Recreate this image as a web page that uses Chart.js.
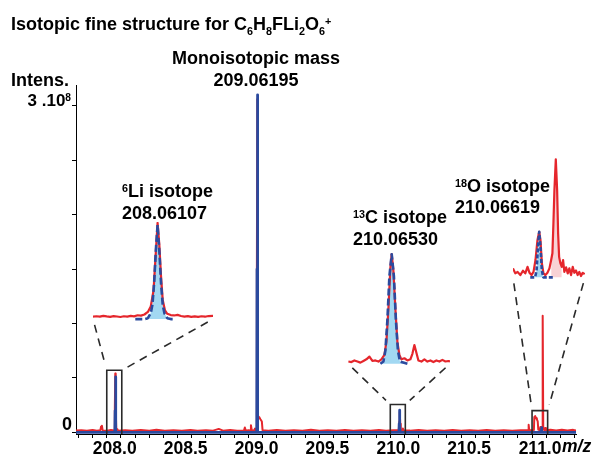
<!DOCTYPE html>
<html>
<head>
<meta charset="utf-8">
<title>Isotopic fine structure</title>
<script src="https://cdn.jsdelivr.net/npm/chart.js@4.4.1/dist/chart.umd.min.js"></script>
<style>
  html, body { margin: 0; padding: 0; background: #fff; }
  #wrap { position: relative; width: 596px; height: 454px; }
  #wrap canvas { position: absolute; }
</style>
</head>
<body>
<div id="wrap">
  <canvas id="mainChart" width="596" height="454" style="left:0;top:0"></canvas>
  <canvas id="inset0"></canvas>
  <canvas id="inset1"></canvas>
  <canvas id="inset2"></canvas>
</div>
<script>
// measured spectrum (m/z, intensity x10^6)
const expSpectrum = [
  [207.783, 1.6], [207.82, 2.0], [207.86, 1.4], [207.90, 2.2], [207.93, 1.5], [207.955, 2.0],
  [207.960, 5.5], [207.966, 6.0], [207.971, 1.8], [208.00, 1.5], [208.03, 2.2], [208.052, 1.8],
  [208.057, 22], [208.060, 54], [208.063, 24], [208.067, 3.5], [208.074, 3.0], [208.08, 1.6],
  [208.13, 2.0], [208.18, 1.5], [208.24, 2.1], [208.30, 1.6], [208.35, 2.3], [208.41, 1.5],
  [208.47, 2.0], [208.53, 1.6], [208.59, 2.2], [208.64, 1.5], [208.70, 2.0], [208.75, 1.6],
  [208.79, 3.2], [208.82, 1.6], [208.87, 2.1], [208.92, 1.5], [208.968, 1.8], [208.974, 4.5],
  [208.980, 1.6], [209.00, 2.0], [209.012, 1.8], [209.017, 6.5], [209.023, 1.8], [209.040, 2.0],
  [209.046, 3.5], [209.052, 1.8], [209.057, 3], [209.059, 150], [209.062, 306], [209.065, 150],
  [209.067, 15], [209.075, 14], [209.084, 12], [209.094, 10], [209.099, 2.0], [209.14, 1.6],
  [209.20, 2.2], [209.26, 1.5], [209.32, 2.0], [209.38, 1.6], [209.44, 2.3], [209.50, 1.5],
  [209.56, 2.0], [209.62, 1.6], [209.68, 2.2], [209.74, 1.5], [209.80, 2.0], [209.86, 1.6],
  [209.92, 2.1], [209.97, 1.5], [210.02, 2.0], [210.060, 2.0], [210.064, 10], [210.067, 19],
  [210.070, 8], [210.074, 2.0], [210.086, 2.2], [210.089, 3.5], [210.092, 1.8], [210.14, 1.6],
  [210.20, 2.1], [210.26, 1.5], [210.32, 2.0], [210.38, 1.6], [210.44, 2.2], [210.50, 1.5],
  [210.56, 2.0], [210.62, 1.6], [210.68, 2.1], [210.74, 1.5], [210.80, 2.0], [210.86, 1.6],
  [210.92, 2.0], [210.972, 2.0], [210.976, 7], [210.980, 2.0], [211.00, 2.0], [211.013, 2.2],
  [211.016, 14], [211.022, 15], [211.028, 13], [211.034, 12], [211.040, 10], [211.044, 2.5],
  [211.055, 2.0], [211.059, 5], [211.063, 2.5], [211.071, 3], [211.075, 107], [211.079, 3],
  [211.086, 2.0], [211.092, 4], [211.098, 2.0], [211.13, 2.4], [211.17, 1.8], [211.21, 2.5],
  [211.25, 1.8], [211.29, 2.3], [211.31, 1.8]
];

// simulated spectrum (m/z, intensity x10^6)
const simSpectrum = [
  [207.783, 0], [208.057, 0], [208.059, 20], [208.0611, 51], [208.063, 20], [208.065, 0],
  [209.058, 0], [209.060, 150], [209.062, 310], [209.064, 150], [209.066, 0],
  [210.061, 0], [210.063, 8], [210.0653, 20.4], [210.067, 8], [210.069, 0],
  [211.062, 0], [211.064, 1.5], [211.0662, 4.4], [211.068, 1.5], [211.070, 0], [211.31, 0]
];

// zoomed windows: m/z from, m/z to, box height (x10^6)
const zoomWindows = [[208.0, 208.106, 57], [210.0, 210.106, 25.6], [211.0, 211.11, 20]];

// inset traces (m/z, relative intensity)
const li6Exp = [
  [208.005, 2.5], [208.008, 3.0], [208.011, 2.6], [208.014, 3.4], [208.017, 2.8], [208.020, 2.4],
  [208.023, 3.1], [208.026, 2.7], [208.029, 2.2], [208.032, 3.0], [208.035, 2.6], [208.038, 3.3],
  [208.041, 2.9], [208.044, 4.0], [208.047, 3.6], [208.050, 4.8], [208.053, 7.5], [208.0555, 13],
  [208.058, 30], [208.060, 70], [208.0615, 100], [208.063, 78], [208.0645, 45], [208.066, 20],
  [208.068, 9], [208.070, 5.5], [208.073, 4.2], [208.076, 3.8], [208.079, 4.4], [208.082, 3.2],
  [208.085, 2.6], [208.088, 3.1], [208.091, 2.4], [208.094, 2.9], [208.097, 2.3], [208.100, 3.0],
  [208.103, 2.5], [208.106, 3.2], [208.110, 3.4]
];
const li6Sim = [
  [208.042, 0], [208.050, 0], [208.053, 1], [208.0555, 6], [208.057, 15], [208.0585, 38],
  [208.060, 72], [208.0615, 98], [208.063, 72], [208.0645, 38], [208.066, 15], [208.0675, 6],
  [208.070, 1], [208.073, 0], [208.077, 0]
];
const c13Exp = [
  [210.022, 2], [210.025, 1.5], [210.028, 3], [210.031, 2], [210.034, 1], [210.037, 2.5],
  [210.040, 4], [210.043, 6.5], [210.046, 2.5], [210.049, 3], [210.052, 2], [210.055, 4],
  [210.058, 8], [210.060, 20], [210.062, 50], [210.064, 88], [210.0653, 100], [210.067, 85],
  [210.069, 50], [210.071, 20], [210.073, 8], [210.075, 4], [210.078, 5], [210.081, 3],
  [210.084, 4], [210.086, 9], [210.088, 17], [210.090, 10], [210.092, 3], [210.095, 2],
  [210.098, 4], [210.101, 2], [210.104, 3], [210.107, 1.5], [210.110, 3], [210.113, 2],
  [210.116, 3.5], [210.119, 2], [210.122, 2.5], [210.1236, 2]
];
const c13Sim = [
  [210.054, 0], [210.057, 2], [210.059, 12], [210.061, 40], [210.063, 80], [210.0653, 100],
  [210.0675, 80], [210.0695, 40], [210.0715, 12], [210.0735, 2], [210.081, 0]
];
const o18Exp = [
  [211.0267, 19.7], [211.0302, 8.8], [211.0336, 12], [211.0377, 5], [211.0417, 14.5],
  [211.0452, 8.8], [211.0486, 23], [211.0516, 10], [211.0546, 5], [211.0576, 12],
  [211.0606, 38], [211.0636, 82], [211.0662, 100], [211.0681, 82], [211.0702, 31],
  [211.0726, 8.8], [211.0756, 5], [211.0786, 10], [211.0816, 19.7], [211.0842, 38],
  [211.0861, 53], [211.0876, 118], [211.0891, 191], [211.0912, 259], [211.0932, 191],
  [211.0947, 96], [211.0962, 45], [211.0981, 31], [211.1002, 23], [211.1022, 38],
  [211.1041, 12], [211.1067, 22], [211.1092, 8.8], [211.1116, 19.7], [211.1142, 5],
  [211.1167, 23], [211.1191, 10], [211.1217, 15], [211.1242, 5], [211.1266, 12],
  [211.1292, 3], [211.1317, 10], [211.1347, 7]
];
const o18Sim = [
  [211.0527, 0], [211.0600, 0], [211.0622, 15], [211.0642, 65], [211.0662, 100],
  [211.0682, 65], [211.0702, 15], [211.0724, 0], [211.0876, 0]
];

const insetMzRange = [[208.005, 208.110], [210.0216, 210.1236], [211.0267, 211.1352]];
const insetRelRange = [[-3, 101], [-3, 102], [-8, 264]];
const insetBoxes = [
  { left: 93, top: 222, width: 120, height: 100 },
  { left: 348, top: 252, width: 102, height: 115 },
  { left: 513, top: 157, width: 72, height: 124 }
];

const RED = '#e5262c', BLUE = '#2b4a9e', LIGHT_BLUE = '#a2d8f2', PINK = '#f8d2d5', INK = '#000';
const FONT = '"Liberation Sans", Arial, Helvetica, sans-serif';

Chart.defaults.font.family = FONT;
Chart.defaults.animation = false;

function makeInset(i, exp, sim, peakFill) {
  const box = insetBoxes[i];
  const cv = document.getElementById('inset' + i);
  cv.width = box.width + 6;
  cv.height = box.height + 6;
  cv.style.left = (box.left - 3) + 'px';
  cv.style.top = (box.top - 3) + 'px';
  const datasets = [
    { data: sim, borderColor: BLUE, borderWidth: 2.6, borderDash: i === 2 ? [4, 2] : [7, 3],
      fill: 'origin', backgroundColor: LIGHT_BLUE },
    { data: exp, borderColor: RED, borderWidth: 2.2, fill: false }
  ];
  if (peakFill) {
    datasets.push({ data: peakFill, borderColor: 'rgba(0,0,0,0)', borderWidth: 0, fill: 'origin', backgroundColor: PINK });
  }
  return new Chart(cv, {
    type: 'line',
    data: { datasets },
    options: {
      responsive: false, animation: false, events: [],
      layout: { padding: 3 },
      elements: { point: { radius: 0 }, line: { tension: 0, borderJoinStyle: 'round' } },
      scales: {
        x: { type: 'linear', display: false, min: insetMzRange[i][0], max: insetMzRange[i][1] },
        y: { display: false, min: insetRelRange[i][0], max: insetRelRange[i][1] }
      },
      plugins: { legend: { display: false }, tooltip: { enabled: false },
        filler: { drawTime: 'beforeDatasetsDraw' } }
    }
  });
}

const insetCharts = [
  makeInset(0, li6Exp, li6Sim),
  makeInset(1, c13Exp, c13Sim),
  makeInset(2, o18Exp, o18Sim, o18Exp.filter(p => p[0] >= 211.084 && p[0] <= 211.1002))
];

// text with sub/superscripts
function drawRich(ctx, parts, x, y, size, align) {
  const font = s => 'bold ' + s + 'px ' + FONT;
  let w = 0;
  parts.forEach(([t, k]) => { ctx.font = font(k ? size * 0.6 : size); w += ctx.measureText(t).width; });
  let cx = align === 'center' ? x - w / 2 : align === 'right' ? x - w : x;
  ctx.textAlign = 'left';
  ctx.textBaseline = 'alphabetic';
  parts.forEach(([t, k]) => {
    ctx.font = font(k ? size * 0.6 : size);
    const dy = k === 'sub' ? size * 0.27 : k === 'sup' ? -size * 0.3 : 0;
    ctx.fillText(t, cx, y + dy);
    cx += ctx.measureText(t).width;
  });
}

function dashedLink(ctx, x0, y0, x1, y1) {
  const gap = 6, L = Math.hypot(x1 - x0, y1 - y0);
  const ux = (x1 - x0) / L, uy = (y1 - y0) / L;
  ctx.setLineDash([8, 6]);
  ctx.beginPath();
  ctx.moveTo(x0 + ux * gap, y0 + uy * gap);
  ctx.lineTo(x1 - ux * gap, y1 - uy * gap);
  ctx.stroke();
  ctx.setLineDash([]);
}

const annotate = {
  id: 'annotate',
  afterDraw(chart) {
    const { ctx, chartArea } = chart;
    const { x, y } = chart.scales;
    ctx.save();
    ctx.strokeStyle = '#2a2a2a';
    ctx.lineWidth = 1.6;
    zoomWindows.forEach(([m0, m1, h], i) => {
      const xl = x.getPixelForValue(m0), xr = x.getPixelForValue(m1);
      const yt = y.getPixelForValue(h), yb = chartArea.bottom;
      ctx.beginPath();
      ctx.moveTo(xl, yb); ctx.lineTo(xl, yt); ctx.lineTo(xr, yt); ctx.lineTo(xr, yb);
      ctx.stroke();
      const ic = insetCharts[i], b = insetBoxes[i];
      const iy = b.top - 3 + ic.scales.y.getPixelForValue(0);
      dashedLink(ctx, b.left - 3 + ic.chartArea.left, iy, xl, yt);
      dashedLink(ctx, b.left - 3 + ic.chartArea.right, iy, xr, yt);
    });

    ctx.fillStyle = INK;
    drawRich(ctx, [['Isotopic fine structure for C'], ['6', 'sub'], ['H'], ['8', 'sub'], ['FLi'], ['2', 'sub'],
      ['O'], ['6', 'sub'], ['+', 'sup']], 11, 30, 18, 'left');
    drawRich(ctx, [['Intens.']], 11, 86, 18, 'left');
    drawRich(ctx, [['3 .10'], ['8', 'sup']], 71, y.getPixelForValue(300), 17, 'right');
    drawRich(ctx, [['0']], 72, y.getPixelForValue(0) - 2, 18, 'right');

    drawRich(ctx, [['Monoisotopic mass']], 256, 64, 18, 'center');
    drawRich(ctx, [['209.06195']], 256, 85.5, 18, 'center');
    drawRich(ctx, [['6', 'sup'], ['Li isotope']], 122, 197, 18, 'left');
    drawRich(ctx, [['208.06107']], 122, 218.5, 18, 'left');
    drawRich(ctx, [['13', 'sup'], ['C isotope']], 353, 223, 18, 'left');
    drawRich(ctx, [['210.06530']], 353, 245, 18, 'left');
    drawRich(ctx, [['18', 'sup'], ['O isotope']], 455, 192, 18, 'left');
    drawRich(ctx, [['210.06619']], 455, 213, 18, 'left');

    ctx.font = 'italic bold 17.5px ' + FONT;
    ctx.textAlign = 'left';
    ctx.textBaseline = 'alphabetic';
    ctx.fillText('m/z', 562, 452);
    ctx.restore();
  }
};

const isHalf = v => Math.abs(v * 2 - Math.round(v * 2)) < 1e-6;
const axisLine = { display: true, color: INK, width: 1 };
const tickMarks = { drawOnChartArea: false, drawTicks: true, tickLength: 4, color: INK, lineWidth: 1 };

new Chart(document.getElementById('mainChart'), {
  type: 'line',
  data: {
    datasets: [
      { label: 'simulated', data: simSpectrum, borderColor: BLUE, borderWidth: 2.8 },
      { label: 'measured', data: expSpectrum, borderColor: RED, borderWidth: 2 }
    ]
  },
  options: {
    responsive: false, animation: false, events: [],
    layout: { padding: { left: 0, right: 20, top: 85, bottom: 0 } },
    elements: { point: { radius: 0 }, line: { tension: 0, borderJoinStyle: 'round' } },
    scales: {
      x: {
        type: 'linear', min: 207.783, max: 211.31,
        border: axisLine, grid: tickMarks,
        ticks: {
          stepSize: 0.1, maxTicksLimit: 50, includeBounds: false, autoSkip: false,
          maxRotation: 0, minRotation: 0, labelOffset: 8, padding: 1, color: INK,
          font: { size: 17.5, weight: 'bold' },
          callback: v => isHalf(v) ? v.toFixed(1) : ''
        },
        afterFit: s => { s.height = 20; }
      },
      y: {
        min: -1.5, max: 319,
        border: axisLine, grid: tickMarks,
        ticks: { display: false, stepSize: 50, includeBounds: false },
        afterFit: s => { s.width = 76; }
      }
    },
    plugins: { legend: { display: false }, tooltip: { enabled: false } }
  },
  plugins: [annotate]
});
</script>
</body>
</html>
